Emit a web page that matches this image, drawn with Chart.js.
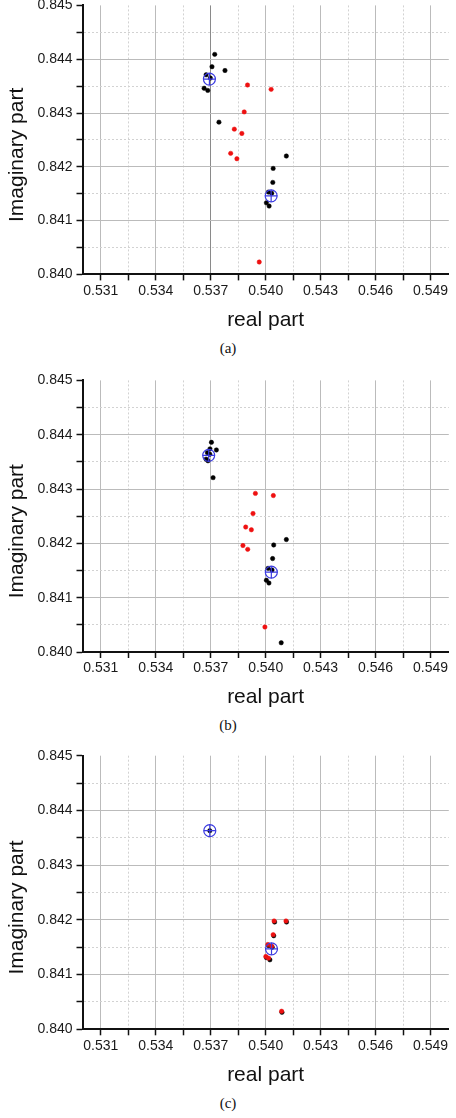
<!DOCTYPE html>
<html>
<head>
<meta charset="utf-8">
<script src="https://cdn.jsdelivr.net/npm/chart.js@4.4.1/dist/chart.umd.min.js"></script>
<style>
  html, body { margin: 0; padding: 0; background: #fff; }
  body { position: relative; width: 456px; height: 1118px; overflow: hidden; }
  canvas { position: absolute; left: 0; }
  .caption { position: absolute; width: 456px; left: 0; text-align: center;
             font: 15px "Liberation Serif", "Times New Roman", serif; color: #111; }
</style>
</head>
<body>
<canvas id="chartA" width="456" height="300"></canvas>
<canvas id="chartB" width="456" height="300"></canvas>
<canvas id="chartC" width="456" height="300"></canvas>
<div class="caption" id="capA">(a)</div>
<div class="caption" id="capB">(b)</div>
<div class="caption" id="capC">(c)</div>
<script>
// axis ticks
const xMajorTicks = [0.531, 0.534, 0.537, 0.540, 0.543, 0.546, 0.549];
const xMinorTicks = [0.5325, 0.5355, 0.5385, 0.5415, 0.5445, 0.5475];
const yMajorTicks = [0.840, 0.841, 0.842, 0.843, 0.844, 0.845];
const yMinorTicks = [0.8405, 0.8415, 0.8425, 0.8435, 0.8445];

// panel (a)
const blackRealA = [0.53722, 0.53707, 0.53778, 0.53675, 0.53698, 0.53664, 0.53684, 0.53745, 0.54113, 0.54041, 0.54039, 0.54015, 0.54033, 0.54004, 0.54019];
const blackImagA = [0.84409, 0.84386, 0.84379, 0.84371, 0.84365, 0.84346, 0.84342, 0.84283, 0.84220, 0.84197, 0.84171, 0.84153, 0.84151, 0.84133, 0.84127];
const redRealA = [0.53901, 0.54030, 0.53883, 0.53829, 0.53870, 0.53809, 0.53843, 0.53965];
const redImagA = [0.84352, 0.84344, 0.84302, 0.84270, 0.84262, 0.84225, 0.84215, 0.84023];
const centRealA = [0.53693, 0.54030];
const centImagA = [0.84363, 0.84146];

// panel (b)
const blackRealB = [0.53704, 0.53696, 0.53731, 0.53682, 0.53695, 0.53675, 0.53685, 0.53713, 0.54113, 0.54044, 0.54038, 0.54013, 0.54035, 0.54004, 0.54018, 0.54085];
const blackImagB = [0.84386, 0.84374, 0.84372, 0.84367, 0.84364, 0.84355, 0.84352, 0.84321, 0.84207, 0.84197, 0.84172, 0.84154, 0.84151, 0.84132, 0.84127, 0.84017];
const redRealB = [0.53944, 0.54042, 0.53931, 0.53891, 0.53922, 0.53876, 0.53902, 0.53996];
const redImagB = [0.84292, 0.84288, 0.84255, 0.84230, 0.84225, 0.84196, 0.84189, 0.84046];
const centRealB = [0.53689, 0.54031];
const centImagB = [0.84362, 0.84147];

// panel (c)
const blackRealC = [0.53695, 0.54049, 0.54114, 0.54044, 0.54015, 0.54036, 0.54004, 0.54023, 0.54089];
const blackImagC = [0.84363, 0.84196, 0.84196, 0.84171, 0.84153, 0.84150, 0.84131, 0.84127, 0.84031];
const redRealC = [0.54046, 0.54111, 0.54041, 0.54012, 0.54033, 0.54001, 0.54016, 0.54087];
const redImagC = [0.84198, 0.84198, 0.84173, 0.84155, 0.84152, 0.84133, 0.84130, 0.84033];
const centRealC = [0.53695, 0.54032];
const centImagC = [0.84363, 0.84147];

const FONT = '"Liberation Sans", Arial, sans-serif';
const TITLE_SIZE = 21;

function zip(xs, ys) { return xs.map((x, i) => ({ x: x, y: ys[i] })); }
function isIn(list, v) { return list.some(t => Math.abs(t - v) < 1e-7); }
function tickList(major, minor) { return major.concat(minor).sort((a, b) => a - b).map(v => ({ value: v })); }

// draws the rotated y title slightly below the plot centre, like the original
const yTitlePlugin = {
    id: 'yTitle',
    afterDraw(chart) {
        const ctx = chart.ctx;
        const a = chart.chartArea;
        ctx.save();
        ctx.translate(17, (a.top + a.bottom) / 2 + 15);
        ctx.rotate(-Math.PI / 2);
        ctx.font = TITLE_SIZE + 'px ' + FONT;
        ctx.fillStyle = '#111';
        ctx.textAlign = 'center';
        ctx.textBaseline = 'middle';
        ctx.fillText('Imaginary part', 0, 0);
        ctx.restore();
    }
};

function makePanel(canvasId, capId, layout, series, darkLine) {
    const top = Math.floor(layout.plotTop - 12);
    const bottom = Math.round(layout.titleCenter + 20);
    const canvas = document.getElementById(canvasId);
    canvas.style.top = top + 'px';
    canvas.height = bottom - top;
    const xHeight = bottom - layout.plotBottom;
    const cap = document.getElementById(capId);
    cap.style.top = (layout.caption - 9) + 'px';

    const gridColor = (ctx, majors, hideVal) => {
        if (!ctx.tick) return '#bbbbbb';
        const v = ctx.tick.value;
        if (hideVal !== undefined && Math.abs(v - hideVal) < 1e-7) return 'rgba(0,0,0,0)';
        if (darkLine !== undefined && Math.abs(v - darkLine) < 1e-7 && majors === xMajorTicks) return '#8a8a8a';
        return isIn(majors, v) ? '#bbbbbb' : '#d2d2d2';
    };
    const gridDash = (ctx, majors) => (ctx.tick && !isIn(majors, ctx.tick.value)) ? [2, 2] : [];

    new Chart(canvas, {
        type: 'scatter',
        data: {
            datasets: [
                { label: 'centre', data: zip(series.centReal, series.centImag), pointStyle: 'circle',
                  pointRadius: 6, backgroundColor: 'rgba(0,0,0,0)', borderColor: '#3a3ae0', borderWidth: 1.2, order: 0 },
                { label: 'centre cross', data: zip(series.centReal, series.centImag), pointStyle: 'cross',
                  pointRadius: 6, borderColor: '#3a3ae0', borderWidth: 1.2, order: 0 },
                { label: 'red', data: zip(series.redReal, series.redImag), pointRadius: 2.2,
                  backgroundColor: '#ee1111', borderColor: '#ee1111', borderWidth: 0.5, order: 1 },
                { label: 'black', data: zip(series.blackReal, series.blackImag), pointRadius: 2.2,
                  backgroundColor: '#000', borderColor: '#000', borderWidth: 0.5, order: 2 }
            ]
        },
        options: {
            responsive: false,
            devicePixelRatio: 1,
            animation: false,
            layout: { padding: { top: layout.plotTop - top, right: 2.5, bottom: 0, left: 0 } },
            plugins: { legend: { display: false }, tooltip: { enabled: false }, title: { display: false } },
            scales: {
                x: {
                    type: 'linear', min: 0.530, max: 0.550,
                    afterBuildTicks: s => { s.ticks = tickList(xMajorTicks, xMinorTicks); },
                    afterFit: s => { s.height = xHeight; },
                    ticks: {
                        autoSkip: false, maxRotation: 0, padding: 2, color: '#1a1a1a',
                        font: { family: FONT, size: 14 },
                        callback: v => isIn(xMajorTicks, v) ? v.toFixed(3) : ''
                    },
                    grid: {
                        color: ctx => gridColor(ctx, xMajorTicks),
                        lineWidth: 1, tickLength: 6, tickColor: '#111', tickWidth: 1.5, tickBorderDash: []
                    },
                    border: { color: '#111', width: 2, dash: ctx => gridDash(ctx, xMajorTicks) },
                    title: { display: true, text: 'real part', color: '#111',
                             font: { family: FONT, size: TITLE_SIZE }, padding: { top: 0, bottom: 20 - TITLE_SIZE * 0.6 } }
                },
                y: {
                    type: 'linear', min: 0.840, max: 0.845,
                    afterBuildTicks: s => { s.ticks = tickList(yMajorTicks, yMinorTicks); },
                    afterFit: s => { s.width = 82.5; },
                    ticks: {
                        autoSkip: false, padding: 4, color: '#1a1a1a',
                        font: { family: FONT, size: 14 },
                        callback: v => isIn(yMajorTicks, v) ? v.toFixed(3) : ''
                    },
                    grid: {
                        color: ctx => gridColor(ctx, yMajorTicks, 0.845),
                        lineWidth: 1, tickLength: 6, tickColor: '#111', tickWidth: 1.5, tickBorderDash: []
                    },
                    border: { color: '#111', width: 2, dash: ctx => gridDash(ctx, yMajorTicks) }
                }
            }
        },
        plugins: [yTitlePlugin]
    });
}

makePanel('chartA', 'capA', { plotTop: 5.3, plotBottom: 274.4, titleCenter: 320, caption: 349 },
    { blackReal: blackRealA, blackImag: blackImagA, redReal: redRealA, redImag: redImagA, centReal: centRealA, centImag: centImagA }, 0.537);
makePanel('chartB', 'capB', { plotTop: 380, plotBottom: 652, titleCenter: 697, caption: 726 },
    { blackReal: blackRealB, blackImag: blackImagB, redReal: redRealB, redImag: redImagB, centReal: centRealB, centImag: centImagB });
makePanel('chartC', 'capC', { plotTop: 755.7, plotBottom: 1029.3, titleCenter: 1075, caption: 1104 },
    { blackReal: blackRealC, blackImag: blackImagC, redReal: redRealC, redImag: redImagC, centReal: centRealC, centImag: centImagC });
</script>
</body>
</html>
